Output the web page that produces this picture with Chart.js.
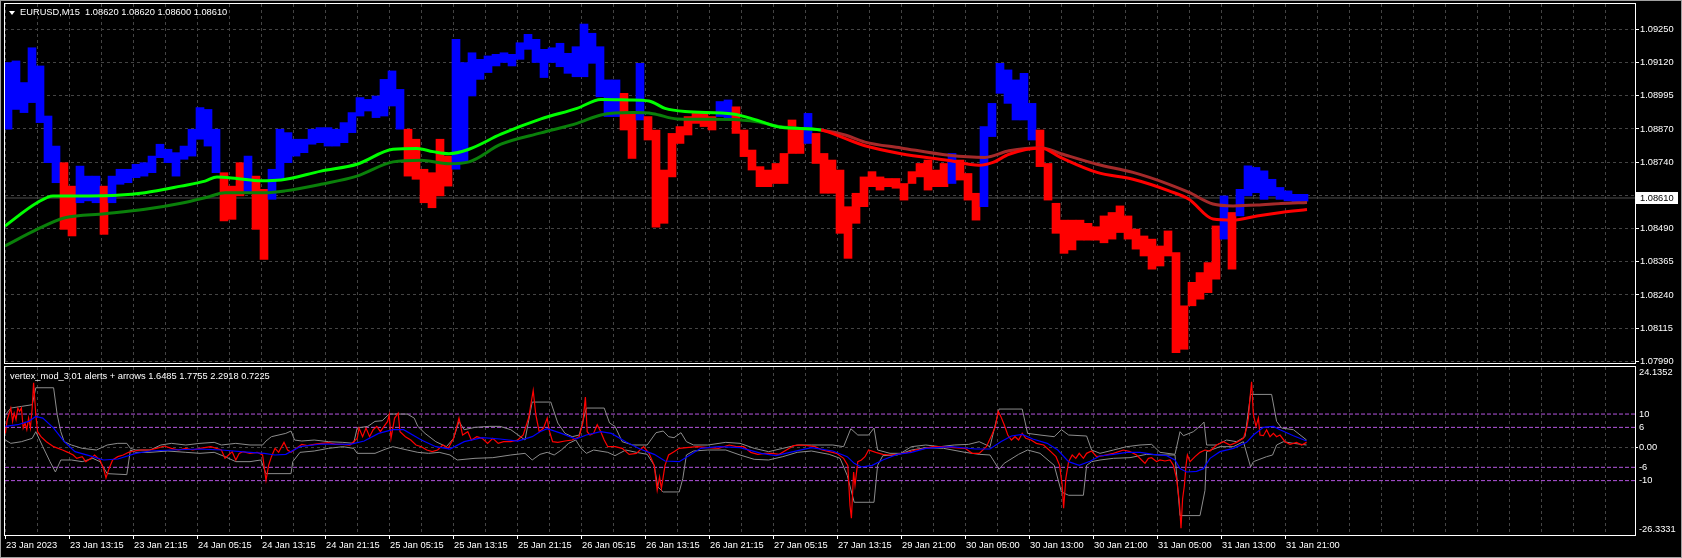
<!DOCTYPE html>
<html>
<head>
<meta charset="utf-8">
<script src="https://cdn.jsdelivr.net/npm/chart.js@4.4.1/dist/chart.umd.min.js"></script>
<style>
  html, body { margin: 0; padding: 0; background: #000; }
  #wrap { position: relative; width: 1682px; height: 558px; overflow: hidden; background: #000; }
  #wrap canvas { position: absolute; left: 0; }
  #frame { position: absolute; left: 0; top: 0; width: 1682px; height: 558px; box-sizing: border-box;
           border: 1px solid #a0a0a0; pointer-events: none; }
  .lbl { position: absolute; color: #fff; font: 9.3px Tahoma, "Liberation Sans", Arial, sans-serif;
         white-space: pre; line-height: 12px; }
  .tri { position: absolute; left: 9px; top: 11px; width: 0; height: 0;
         border-left: 3px solid transparent; border-right: 3px solid transparent; border-top: 4px solid #fff; }
</style>
</head>
<body>
<div id="wrap">
  <canvas id="main" width="1682" height="366" style="top:0"></canvas>
  <canvas id="osc" width="1682" height="193" style="top:365px"></canvas>
  <div class="tri"></div>
  <div class="lbl" style="left:20px; top:6px">EURUSD,M15  1.08620 1.08620 1.08600 1.08610</div>
  <div class="lbl" style="left:10px; top:370px">vertex_mod_3.01 alerts + arrows 1.6485 1.7755 2.2918 0.7225</div>
  <div id="frame"></div>
</div>
<script>
// ---------- data ----------
// M15 bars grouped by 4 (one hour each), high / low and trend colour (1 = blue, 0 = red)
const priceHigh = [
  1.09124,1.09130,1.09048,1.09180,1.09111,1.08921,1.08807,1.08744,1.08655,1.08731,
  1.08693,1.08693,1.08655,1.08693,1.08719,1.08719,1.08738,1.08744,1.08769,1.08814,
  1.08795,1.08782,1.08807,1.08871,1.08953,1.08946,1.08871,1.08706,1.08655,1.08744,
  1.08769,1.08693,1.08643,1.08719,1.08871,1.08858,1.08833,1.08833,1.08871,1.08877,
  1.08877,1.08871,1.08896,1.08934,1.08991,1.08984,1.08997,1.09060,1.09092,1.09022,
  1.08871,1.08833,1.08719,1.08706,1.08833,1.08769,1.09212,1.09124,1.09161,1.09136,
  1.09149,1.09155,1.09161,1.09155,1.09199,1.09231,1.09212,1.09174,1.09180,1.09197,
  1.09159,1.09184,1.09270,1.09235,1.09184,1.09058,1.09058,1.09007,1.08931,1.09121,
  1.08919,1.08868,1.08716,1.08855,1.08881,1.08919,1.08931,1.08931,1.08919,1.08976,
  1.08982,1.08956,1.08868,1.08792,1.08729,1.08716,1.08741,1.08779,1.08906,1.08868,
  1.08931,1.08855,1.08779,1.08754,1.08716,1.08577,1.08628,1.08690,1.08710,1.08690,
  1.08684,1.08684,1.08665,1.08710,1.08741,1.08754,1.08716,1.08741,1.08779,1.08754,
  1.08703,1.08628,1.08881,1.08969,1.09121,1.09096,1.09058,1.09083,1.08969,1.08868,
  1.08741,1.08590,1.08526,1.08526,1.08526,1.08514,1.08501,1.08542,1.08555,1.08580,
  1.08542,1.08492,1.08466,1.08454,1.08428,1.08485,1.08403,1.08201,1.08290,1.08327,
  1.08365,1.08504,1.08618,1.08555,1.08643,1.08732,1.08726,1.08713,1.08681,1.08650,
  1.08637,1.08624,1.08624
];
const priceLow = [
  1.08871,1.08946,1.08934,1.08972,1.08896,1.08744,1.08668,1.08491,1.08466,1.08592,
  1.08599,1.08592,1.08472,1.08592,1.08662,1.08668,1.08687,1.08693,1.08706,1.08763,
  1.08744,1.08693,1.08757,1.08769,1.08833,1.08807,1.08706,1.08523,1.08529,1.08618,
  1.08630,1.08491,1.08377,1.08605,1.08681,1.08744,1.08769,1.08782,1.08814,1.08820,
  1.08807,1.08807,1.08820,1.08858,1.08921,1.08940,1.08915,1.08921,1.08959,1.08871,
  1.08693,1.08681,1.08592,1.08573,1.08618,1.08655,1.08719,1.08744,1.08997,1.09060,
  1.09086,1.09111,1.09124,1.09111,1.09136,1.09174,1.09124,1.09067,1.09124,1.09108,
  1.09083,1.09070,1.09070,1.09121,1.08994,1.08919,1.08919,1.08868,1.08760,1.08906,
  1.08830,1.08499,1.08514,1.08690,1.08817,1.08849,1.08893,1.08881,1.08868,1.08919,
  1.08906,1.08855,1.08767,1.08716,1.08653,1.08653,1.08665,1.08665,1.08779,1.08779,
  1.08817,1.08741,1.08628,1.08628,1.08476,1.08381,1.08514,1.08577,1.08653,1.08640,
  1.08653,1.08647,1.08602,1.08665,1.08690,1.08640,1.08653,1.08653,1.08665,1.08678,
  1.08602,1.08526,1.08577,1.08843,1.09007,1.08969,1.08906,1.08906,1.08830,1.08729,
  1.08602,1.08476,1.08400,1.08413,1.08450,1.08450,1.08450,1.08440,1.08454,1.08479,
  1.08454,1.08416,1.08390,1.08340,1.08352,1.08390,1.08023,1.08036,1.08201,1.08226,
  1.08251,1.08302,1.08454,1.08340,1.08542,1.08618,1.08630,1.08605,1.08618,1.08605,
  1.08599,1.08593,1.08598
];
const barUp = [
  1,1,1,1,1,1,1,0,0,1, 1,1,0,1,1,1,1,1,1,1, 1,1,1,1,1,1,1,0,0,0, 1,0,0,1,1,1,1,1,1,1,
  1,1,1,1,1,1,1,1,1,1, 0,0,0,0,0,0,1,1,1,1, 1,1,1,1,1,1,1,1,1,1, 1,1,1,1,1,1,1,0,0,1,
  0,0,0,0,0,0,0,0,0,1, 1,0,0,0,0,0,0,0,0,0, 1,0,0,0,0,0,0,0,0,0, 0,0,0,0,0,0,0,0,1,0,
  0,0,1,1,1,1,1,1,1,0, 0,0,0,0,0,0,0,0,0,0, 0,0,0,0,0,0,0,0,0,0, 0,0,1,0,1,1,1,1,1,1,
  1,1,1
];
const bidPrice = 1.08610;

// moving averages (bar index, price)
const fastMaIdx = [0,16,24,42,56,70,88,100,106,116,128,138,158,176,194,206,214,222,232,248,
  268,286,298,312,322,330,340,364,376,388,408,420,430,448,472,487,494,502,518,528,
  546,564,582,592,604,614,626,638,651];
const fastMa = [1.08504,1.08592,1.08618,1.08618,1.08620,1.08630,1.08655,1.08674,1.08690,1.08684,
  1.08675,1.08678,1.08712,1.08738,1.08795,1.08798,1.08786,1.08778,1.08795,1.08852,
  1.08910,1.08950,1.08984,1.08982,1.08978,1.08950,1.08938,1.08929,1.08905,1.08878,
  1.08868,1.08836,1.08808,1.08778,1.08752,1.08734,1.08745,1.08776,1.08800,1.08763,
  1.08707,1.08681,1.08637,1.08605,1.08530,1.08526,1.08542,1.08555,1.08566];
const slowMaIdx = [0,16,30,50,70,88,102,110,130,140,158,176,194,208,222,232,248,268,286,298,
  314,324,336,364,376,388,408,420,430,448,472,490,502,518,528,546,564,582,592,604,
  614,626,638,651];
const slowMa = [1.08428,1.08491,1.08535,1.08550,1.08567,1.08590,1.08615,1.08630,1.08630,1.08637,
  1.08662,1.08693,1.08747,1.08753,1.08740,1.08747,1.08814,1.08857,1.08893,1.08925,
  1.08934,1.08930,1.08910,1.08908,1.08899,1.08880,1.08868,1.08849,1.08822,1.08800,
  1.08772,1.08764,1.08789,1.08801,1.08778,1.08738,1.08707,1.08662,1.08631,1.08587,
  1.08580,1.08583,1.08589,1.08593];
const maFlipIdx = 408;

const priceTickValues = [1.09250,1.09124,1.08998,1.08872,1.08746,1.08620,1.08494,1.08368,1.08242,1.08116,1.07990];
const priceTickLabels = ['1.09250','1.09120','1.08995','1.08870','1.08740','1.08620','1.08490','1.08365','1.08240','1.08115','1.07990'];
const priceMin = 1.07984, priceMax = 1.09346;

const timeLabels = ['23 Jan 2023','23 Jan 13:15','23 Jan 21:15','24 Jan 05:15','24 Jan 13:15','24 Jan 21:15',
  '25 Jan 05:15','25 Jan 13:15','25 Jan 21:15','26 Jan 05:15','26 Jan 13:15','26 Jan 21:15','27 Jan 05:15',
  '27 Jan 13:15','29 Jan 21:00','30 Jan 05:00','30 Jan 13:00','30 Jan 21:00','31 Jan 05:00','31 Jan 13:00','31 Jan 21:00'];

// oscillator (bar index, value)
const oscRed = [[0.2,4.2],[1.1,8.3],[2.9,11.8],[3.8,7.8],[4.6,10.3],[5.5,8.3],[6.4,11.8],[7.3,10.8],[8.2,11.8],[9.1,5.8],
  [10,7.3],[10.9,5.3],[11.8,8.8],[12.7,5.8],[13.6,11.8],[14.3,19.4],[15.4,9.8],[16.3,4.7],[18,3.2],[20.7,1.7],
  [24.3,0.2],[28.8,-0.8],[31.4,-1.5],[34.1,-2.3],[35.9,-3.3],[38.6,-2.8],[40.4,-4.3],[43,-3.3],[44.8,-2.3],[47.5,-3.8],
  [49.3,-6.4],[50.5,-9.2],[52,-6.4],[53.8,-3.8],[56.4,-2.8],[59.1,-2.3],[61.8,-1.5],[64.5,-1.1],[68,-0.8],[72.5,-0.8],
  [77,-0.1],[79.6,0.4],[83.2,-0.3],[86.8,-0.8],[90.4,-0.3],[93.9,-0.8],[97.5,-0.3],[102.9,0.2],[108.2,-0.8],[110,-3.3],
  [111.8,-2.3],[113.6,-1.3],[115.4,-3.8],[117.1,-1.8],[118.9,-1.3],[122.5,-1.8],[126.1,-1.5],[128.8,-2.3],[130.5,-9.9],[131.8,-5.4],
  [133.2,-2.8],[135,-0.3],[136.8,-1.5],[139.5,1.5],[141.3,-0.8],[143,-1.5],[145.7,-0.3],[148.4,0.9],[151.1,0.5],[154.6,0.9],
  [158.2,1.2],[161.8,1.4],[165.4,0.9],[168.9,0.9],[172.5,0.7],[176.1,2.7],[177,5.8],[178.8,3.2],[180.5,5.8],[182.3,3.2],
  [184.1,5.3],[185.9,6.3],[187.7,4.7],[189.5,6.3],[191.3,7.8],[192.1,9.8],[193,2.7],[194.8,8.8],[196.6,10.3],[197.5,4.7],
  [200.2,3.2],[202.9,2.2],[205.5,0.7],[208.2,0.2],[210.9,-0.8],[213.6,-1.3],[216.3,-0.8],[218.9,0.7],[221.6,-0.3],[224.3,2.7],
  [227,8.8],[228.8,3.7],[231.4,4.7],[233.2,2.2],[235.9,3.2],[238.6,2.7],[241.3,1.2],[243.9,2.7],[246.6,1.2],[249.3,1.7],
  [252.9,1.7],[256.4,2.2],[259.1,3.7],[261.8,8.8],[264.1,17.1],[265.4,9.8],[267.1,4.7],[269.3,5.8],[271.1,8.8],[272,5.3],
  [273.8,1.7],[276.4,1.5],[280,1.9],[283.6,2.2],[287.1,3.2],[288.9,7.3],[290.2,15.1],[291.1,4.7],[292.5,3.7],[294.3,4.2],
  [296.1,6.8],[297.9,4.7],[299.6,2.2],[301.4,0.2],[305,0.2],[308.6,-0.3],[312.1,-2.1],[315.7,-1.8],[319.3,0.2],[322,-1.8],
  [324.6,-5.4],[326.1,-12.9],[327.3,-8.9],[328.2,-12.4],[330,-5.4],[331.8,-2.3],[334.5,-1.3],[337.1,-0.3],[340.7,-0.1],[346.1,0.2],
  [351.4,-0.1],[356.8,-0.3],[362.1,0.7],[365.7,0.2],[369.3,0.2],[372.9,-1.5],[376.4,-2.1],[380,-1.8],[383.6,-1.8],[387.1,-2.1],
  [390.7,-0.8],[394.3,0.5],[397.9,0.7],[401.4,0.5],[405,0.2],[408.6,-0.8],[412.1,-1.3],[415.7,-1.8],[419.3,-3.3],[421.4,-5.4],
  [422.5,-17.5],[423.2,-21.3],[424.3,-7.4],[425,-11.4],[426.4,-4.3],[428.2,-3.8],[430,-2.8],[431.8,-0.8],[435.4,-1.5],[438.9,-2.1],
  [442.5,-2.3],[446.1,-2.1],[451.4,-1.5],[455,-0.8],[458.6,-0.5],[463.9,0.2],[469.3,0.2],[474.6,-0.1],[480,-0.3],[483.6,-1.8],
  [487.1,-1.8],[490.7,0.2],[493.4,3.7],[495.2,6.3],[496.6,10.8],[497.9,9.3],[499.6,6.8],[501.4,3.7],[503.2,2.2],[505,3.2],
  [506.8,2.2],[508.6,4.2],[510.4,2.7],[513,2.2],[515.7,1.2],[519.3,0.7],[522.9,-1.3],[525.5,-2.8],[527.3,-5.4],[528.6,-11.4],
  [529.3,-18.3],[530.4,-9.4],[531.8,-4.3],[533.6,-2.3],[535.4,-3.3],[537.1,-1.8],[539.2,-3.3],[540.8,-1.8],[543.3,-1.1],[545.8,-2.8],
  [549.2,-2.5],[554.2,-1.8],[559.2,-0.8],[562.5,-1.3],[565.8,-2.3],[568.3,-3.8],[570,-4.8],[571.7,-3.3],[573.3,-3.1],[575.8,-4.3],
  [577.5,-3.8],[580,-4.1],[582.5,-3.8],[584.2,-5.4],[585.8,-9.4],[587.2,-16.5],[588,-24.3],[588.8,-15.5],[589.7,-11.4],[590.5,-5.4],
  [591.2,-2.3],[592.5,-4.3],[595,-2.8],[597.5,-1.5],[600,-0.8],[602.5,-1.1],[605.8,0.7],[609.2,1.7],[612.5,0.7],[615.8,1.5],
  [619.2,2.7],[620.8,5.8],[621.7,8.8],[622.5,14.8],[623.3,19.7],[624.2,9.8],[625.5,6.3],[626.7,8.8],[627.5,3.7],[629.2,3.5],
  [630.8,5.3],[632.5,3.2],[634.2,4.2],[635.8,3.2],[637.5,3.7],[640,1.7],[642.5,0.9],[645.8,1.5],[648.3,0.7],[650.8,1.5]];
const oscBlue = [[0.2,6.3],[6.4,6.8],[11.8,7.8],[15.4,9.3],[18.9,8.8],[24.3,5.8],[29.6,1.7],[35,-1.3],[42.1,-2.5],[49.3,-3.8],
  [56.4,-3.5],[65.4,-1.8],[72.5,-1.1],[83.2,-0.8],[97.5,-0.5],[108.2,-0.8],[122.5,-1.5],[129.6,-1.8],[135,-2.3],[140.4,-2.1],
  [147.5,0.2],[158.2,1.0],[172.5,0.9],[179.6,1.9],[186.8,4.2],[193.9,5.3],[199.3,5.3],[208.2,2.2],[215.4,0.2],[222.5,-0.5],
  [229.6,1.7],[238.6,2.9],[247.5,2.5],[256.4,1.9],[263.6,3.2],[267.5,4.7],[271.1,5.6],[278.2,4.2],[285.4,2.5],[290.7,3.7],
  [297.9,4.7],[303.2,4.2],[310.4,1.7],[317.5,-0.5],[324.6,-2.1],[330,-4.1],[337.1,-4.3],[342.5,-2.3],[347.9,-0.3],[356.8,0.2],
  [367.5,-0.1],[378.2,-1.8],[385.4,-2.5],[392.5,-1.5],[403.2,-0.1],[413.9,-1.1],[421.1,-2.8],[424.6,-4.8],[428.2,-5.9],[433.6,-5.4],
  [438.9,-3.8],[446.1,-2.1],[453.2,-1.5],[460.4,-0.3],[472.9,0.2],[485.4,-0.5],[492.5,-0.5],[497.9,1.7],[503.2,3.4],[508.6,3.9],
  [513.9,2.5],[521.1,1.2],[526.4,-0.8],[531.8,-4.3],[537.1,-5.4],[542.5,-4.2],[547.5,-2.6],[554.2,-2.1],[560.8,-1.5],[567.5,-1.5],
  [574.2,-2.1],[580.8,-2.5],[585,-3.8],[587.5,-6.4],[590.8,-7.4],[595.8,-7.2],[599.2,-6.4],[602.5,-3.3],[607.5,-1.3],[614.2,-0.3],
  [620.8,1.5],[624.2,3.7],[629.2,6.0],[634.2,6.3],[637.5,5.3],[644.2,3.5],[650.8,1.9]];
const oscUpper = [[0.2,9.8],[2.9,11.8],[8.2,12.3],[13.6,12.8],[15.4,17.9],[24.3,17.9],[26.1,9.8],[27.9,4.7],[29.6,1.7],[33.2,0.7],
  [38.6,-0.3],[45.7,-0.8],[51.1,0.7],[56.4,1.2],[60.9,1.2],[62.7,-0.3],[65.4,-0.8],[72.5,-0.8],[77.9,0.7],[83.2,1.2],
  [90.4,0.7],[97.5,1.2],[104.6,1.5],[108.2,0.7],[115.4,1.2],[122.5,0.7],[128.8,0.7],[130.5,1.9],[133.2,3.2],[140.4,4.2],
  [143,4.9],[144.8,2.2],[148.4,1.9],[154.6,2.2],[161.8,1.7],[168.9,1.5],[174.3,1.2],[176.1,5.8],[181.4,6.3],[185,7.8],
  [188.6,8.0],[192.1,10.0],[201.1,10.0],[204.6,8.8],[206.4,6.3],[210,4.2],[215.4,1.7],[220.7,0.2],[224.3,2.7],[227,7.8],
  [229.6,5.3],[235,6.0],[242.1,6.3],[247.5,6.3],[252.9,5.3],[260,2.2],[263.6,13.6],[272.9,13.6],[276.4,7.3],[280,4.2],
  [283.6,3.2],[287.1,3.7],[290.7,11.8],[299.6,11.8],[302.3,7.3],[305,6.3],[308.6,1.7],[313.9,0.7],[321.1,0.7],[325.5,4.4],
  [329.1,4.9],[331.8,3.2],[334.5,2.9],[338,4.4],[340.7,1.7],[344.3,0.7],[351.4,0.7],[360.4,1.5],[367.5,1.2],[374.6,-0.3],
  [381.8,-1.3],[388.9,-0.3],[396.1,0.7],[403.2,0.7],[413.9,0.7],[419.3,0.2],[422.9,5.6],[426.4,3.7],[431.8,3.7],[434.5,5.8],
  [436.3,-0.8],[442.5,-1.8],[447.9,-1.8],[453.2,0.2],[460.4,0.7],[467.5,0.2],[474.6,0.7],[481.8,0.9],[487.1,1.7],[492.5,0.2],
  [497,11.5],[508.6,11.5],[511.3,4.2],[517.5,3.7],[524.6,3.2],[528.2,5.3],[531.8,3.7],[540.8,3.4],[543.3,-0.8],[547.5,-1.8],
  [554.2,-0.8],[560.8,0.2],[567.5,0.7],[573.3,0.9],[577.5,-1.5],[585,-2.1],[587.5,4.7],[589.2,3.5],[594.2,4.7],[598.3,6.8],
  [599.5,7.6],[600.8,0.7],[605.8,0.7],[610.8,2.2],[615.8,1.7],[620,3.2],[622.8,15.9],[633.3,15.9],[635.8,7.8],[638.3,5.8],
  [644.2,5.3],[650.8,2.2]];
const oscLower = [[0.2,2.2],[2.9,1.2],[8.2,1.7],[13.6,2.7],[15.4,4.7],[18.9,0.2],[22.5,-4.3],[25.2,-7.4],[27.9,-3.8],[33.2,-3.8],
  [38.6,-4.3],[43.9,-3.3],[47.5,-4.3],[51.1,-7.9],[60.9,-8.2],[62.7,-0.8],[65.4,-1.5],[72.5,-1.5],[81.4,-1.1],[90.4,-1.5],
  [97.5,-1.8],[104.6,-1.5],[110,-2.8],[115.4,-4.3],[122.5,-4.3],[127.9,-3.8],[130.5,-7.9],[143,-7.9],[143.9,-4.3],[147.5,-1.5],
  [154.6,-1.1],[161.8,-0.3],[168.9,0.2],[174.3,-0.3],[176.1,-1.8],[185,-1.8],[190.4,-0.5],[193.9,0.2],[201.1,-0.8],[206.4,-1.5],
  [211.8,-1.8],[217.1,-1.5],[222.5,-2.3],[226.1,-3.8],[235,-3.3],[243.9,-3.1],[252.9,-2.3],[260,-1.8],[263.6,-3.8],[267.5,-2.1],
  [271.1,-1.5],[274.6,-2.3],[278.2,-0.8],[281.8,1.2],[285.4,2.2],[288,-0.3],[290.7,-1.8],[294.3,-0.8],[301.4,-1.5],[305,-2.5],
  [310.4,-0.8],[315.7,-1.5],[321.1,-2.1],[324.6,-5.4],[326.4,-11.9],[329.1,-13.4],[337.1,-13.4],[338.9,-9.4],[340.7,-2.3],[344.3,-1.1],
  [351.4,-0.8],[360.4,-0.8],[367.5,-2.3],[374.6,-3.6],[381.8,-3.8],[388.9,-2.8],[396.1,-1.5],[403.2,-1.1],[412.1,-2.1],[417.5,-3.3],
  [421.1,-8.4],[424.6,-16.5],[434.5,-16.5],[436.3,-5.4],[438.9,-2.5],[446.1,-2.3],[453.2,-0.8],[460.4,-0.1],[469.3,-0.3],[480,-1.5],
  [487.1,-2.1],[492.5,-2.3],[497,-6.6],[499.6,-4.8],[506.8,-2.1],[511.3,-0.8],[517.5,-1.8],[524.6,-5.4],[528.2,-13.4],[531.8,-14.4],
  [539.2,-14.4],[540.8,-5.4],[543.3,-4.3],[547.5,-3.8],[554.2,-3.3],[562.5,-3.1],[570.8,-2.1],[577.5,-2.3],[585,-2.3],[587.5,-20.5],
  [597.5,-20.5],[600,-12.9],[600.8,-1.3],[607.5,0.2],[614.2,0.2],[619.2,1.7],[622.8,-5.9],[624.2,-4.3],[630.8,-2.8],[633.8,-2.3],
  [635.8,0.7],[639.2,1.7],[644.2,1.2],[650.8,0.7]];
const oscLevels = [10, 6, -6, -10];
const oscMin = -26.3331, oscMax = 24.1352;
const oscTickValues = [-26.3331, -10, -6, 0, 6, 10, 24.1352];
const oscTickLabels = ['-26.3331', '-10', '-6', '0.00', '6', '10', '24.1352'];

// ---------- setup ----------
const X_MAX = 815;          // bars that fit across the window
const GRID = '#444444';
Chart.defaults.font.family = "Tahoma, 'Liberation Sans', Arial, sans-serif";
Chart.defaults.font.size = 9.3;
Chart.defaults.color = '#ffffff';

const gridX = [];
for (let v = 0; v <= X_MAX; v += 16) gridX.push(v);

const pts = arr => arr.map(p => ({ x: p[0], y: p[1] }));
const zip = (xs, ys) => xs.map((x, k) => ({ x, y: ys[k] }));

// keep the plot area where the terminal draws it
function tight(w, h) {
  return s => {
    s.paddingLeft = s.paddingRight = s.paddingTop = s.paddingBottom = 0;
    if (w != null) s.width = w;
    if (h != null) s.height = h;
  };
}

const frameBox = {
  id: 'frameBox',
  afterDraw(chart) {
    const a = chart.chartArea, c = chart.ctx;
    c.save();
    c.strokeStyle = '#ffffff';
    c.lineWidth = 1;
    c.strokeRect(Math.round(a.left) - 0.5, Math.round(a.top) - 0.5,
                 Math.round(a.right - a.left) + 1, Math.round(a.bottom - a.top) + 1);
    c.restore();
  }
};

const bidTag = {
  id: 'bidTag',
  afterDraw(chart) {
    const c = chart.ctx;
    const y = Math.round(chart.scales.y.getPixelForValue(bidPrice));
    const x = Math.round(chart.chartArea.right) + 1;
    c.save();
    c.fillStyle = '#ffffff';
    c.fillRect(x, y - 6, 42, 12);
    c.fillStyle = '#000000';
    c.font = "9.3px Tahoma, 'Liberation Sans', Arial, sans-serif";
    c.textBaseline = 'middle';
    c.fillText(bidPrice.toFixed(5), x + 4, y);
    c.restore();
  }
};

// ---------- price window ----------
const bars = priceHigh.map((h, g) => ({ x: g * 4 + 1.5, y: [priceLow[g], h] }));

new Chart(document.getElementById('main'), {
  type: 'bar',
  data: {
    datasets: [
      { type: 'line', data: [{ x: 0, y: bidPrice }, { x: X_MAX, y: bidPrice }],
        borderColor: '#505050', borderWidth: 1, pointRadius: 0, order: 3 },
      { type: 'bar', data: bars, backgroundColor: barUp.map(u => u ? '#0000ff' : '#ff0000'),
        borderWidth: 0, barThickness: 8, grouped: false, order: 2 },
      { type: 'line', data: zip(slowMaIdx, slowMa), borderWidth: 3, pointRadius: 0,
        cubicInterpolationMode: 'monotone', borderColor: '#0a800a',
        segment: { borderColor: c => c.p0.parsed.x >= maFlipIdx ? '#a52a2a' : '#0a800a' }, order: 1 },
      { type: 'line', data: zip(fastMaIdx, fastMa), borderWidth: 3, pointRadius: 0,
        cubicInterpolationMode: 'monotone', borderColor: '#00ff00',
        segment: { borderColor: c => c.p0.parsed.x >= maFlipIdx ? '#ff0000' : '#00ff00' }, order: 0 }
    ]
  },
  options: {
    responsive: false, animation: false, events: [],
    layout: { padding: { left: 5, top: 4, right: 0, bottom: 3 } },
    plugins: { legend: { display: false }, tooltip: { enabled: false } },
    scales: {
      x: {
        type: 'linear', min: 0, max: X_MAX, offset: false,
        afterBuildTicks: s => { s.ticks = gridX.map(v => ({ value: v })); },
        afterFit: tight(null, 0),
        grid: { color: GRID, offset: false, drawTicks: false },
        border: { display: false, dash: [3, 3] },
        ticks: { display: false }
      },
      y: {
        position: 'right', min: priceMin, max: priceMax,
        afterBuildTicks: s => { s.ticks = priceTickValues.map(v => ({ value: v })); },
        afterFit: tight(47, null),
        grid: { color: GRID, tickColor: '#ffffff', tickLength: 4, tickBorderDash: [] },
        border: { display: false, dash: [3, 3] },
        ticks: { padding: 1, callback: (v, i) => Math.abs(v - bidPrice) < 0.0002 ? '' : priceTickLabels[i] }
      }
    }
  },
  plugins: [frameBox, bidTag]
});

// ---------- indicator window ----------
const lineDs = (data, color, width, order) => ({
  type: 'line', data, borderColor: color, borderWidth: width, pointRadius: 0, tension: 0, order
});

new Chart(document.getElementById('osc'), {
  type: 'line',
  data: {
    datasets: [
      ...oscLevels.map(v => ({ type: 'line', data: [{ x: 0, y: v }, { x: X_MAX, y: v }],
        borderColor: '#b455e0', borderWidth: 1, borderDash: [4, 2], pointRadius: 0, order: 5 })),
      lineDs(pts(oscUpper), '#8c8c8c', 1, 4),
      lineDs(pts(oscLower), '#8c8c8c', 1, 4),
      lineDs(pts(oscRed), '#ff0000', 1.2, 2),
      lineDs(pts(oscBlue), '#0000ff', 1.2, 1)
    ]
  },
  options: {
    responsive: false, animation: false, events: [],
    layout: { padding: { left: 5, top: 2, right: 0, bottom: 0 } },
    plugins: { legend: { display: false }, tooltip: { enabled: false } },
    scales: {
      x: {
        type: 'linear', min: 0, max: X_MAX, offset: false,
        afterBuildTicks: s => { s.ticks = gridX.map(v => ({ value: v })); },
        afterFit: tight(null, 23),
        grid: {
          color: GRID, offset: false, tickLength: 4, tickBorderDash: [],
          tickColor: c => (c.tick && c.tick.value % 32 === 0 && c.tick.value / 32 < timeLabels.length) ? '#ffffff' : 'transparent'
        },
        border: { display: false, dash: [3, 3] },
        ticks: {
          autoSkip: false, maxRotation: 0, minRotation: 0, align: 'start', padding: 1, labelOffset: 1,
          callback: v => (v % 32 === 0 && timeLabels[v / 32]) || ''
        }
      },
      y: {
        position: 'right', min: oscMin, max: oscMax,
        afterBuildTicks: s => {
          const pad = (oscMax - oscMin) * 5.5 / 168;   // extreme labels sit just inside the window
          s.ticks = oscTickValues.map(v => ({ value: v === oscMax ? v - pad : v === oscMin ? v + pad : v }));
        },
        afterFit: tight(47, null),
        grid: {
          color: c => (c.tick && c.tick.value === 0) ? GRID : 'transparent',
          tickColor: c => (c.tick && c.tick.value === 0) ? '#ffffff' : 'transparent',
          tickLength: 3, tickBorderDash: []
        },
        border: { display: false, dash: [3, 3] },
        ticks: { padding: 1, callback: (v, i) => oscTickLabels[i] }
      }
    }
  },
  plugins: [frameBox]
});
</script>
</body>
</html>
